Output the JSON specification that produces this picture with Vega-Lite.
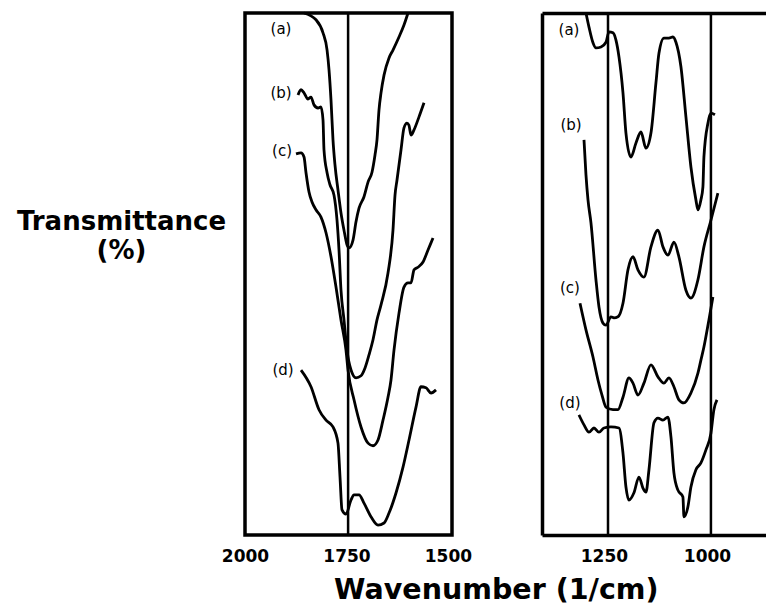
{
  "$schema": "https://vega.github.io/schema/vega-lite/v6.json",
  "padding": {"left": 14, "top": 5, "right": 0, "bottom": 0},
  "background": "white",
  "config": {
    "font": "DejaVu Sans",
    "axis": {"grid": false, "ticks": false, "domainColor": "black", "labelColor": "black", "titleColor": "black"},
    "concat": {"spacing": 68}
  },
  "title": {
    "text": "Wavenumber (1/cm)",
    "orient": "bottom",
    "anchor": "middle",
    "font": "DejaVu Sans",
    "fontSize": 28.5,
    "fontWeight": "bold",
    "color": "black",
    "offset": 10,
    "dx": 106
  },
  "datasets": {
    "left": [
      {"curve": "a", "wavenumber": 1854.6, "transmittance": 100},
      {"curve": "a", "wavenumber": 1825.1, "transmittance": 98.7},
      {"curve": "a", "wavenumber": 1807.8, "transmittance": 96.2},
      {"curve": "a", "wavenumber": 1797.8, "transmittance": 92.9},
      {"curve": "a", "wavenumber": 1793.0, "transmittance": 89.1},
      {"curve": "a", "wavenumber": 1788.1, "transmittance": 83.3},
      {"curve": "a", "wavenumber": 1783.2, "transmittance": 75.7},
      {"curve": "a", "wavenumber": 1778.3, "transmittance": 70.9},
      {"curve": "a", "wavenumber": 1770.9, "transmittance": 66.1},
      {"curve": "a", "wavenumber": 1763.5, "transmittance": 61.7},
      {"curve": "a", "wavenumber": 1756.1, "transmittance": 58.4},
      {"curve": "a", "wavenumber": 1748.7, "transmittance": 55.6},
      {"curve": "a", "wavenumber": 1743.6, "transmittance": 55.0},
      {"curve": "a", "wavenumber": 1733.9, "transmittance": 56.5},
      {"curve": "a", "wavenumber": 1726.5, "transmittance": 60.0},
      {"curve": "a", "wavenumber": 1719.1, "transmittance": 62.6},
      {"curve": "a", "wavenumber": 1706.8, "transmittance": 64.8},
      {"curve": "a", "wavenumber": 1696.9, "transmittance": 67.6},
      {"curve": "a", "wavenumber": 1687.1, "transmittance": 69.5},
      {"curve": "a", "wavenumber": 1679.7, "transmittance": 72.8},
      {"curve": "a", "wavenumber": 1674.8, "transmittance": 75.7},
      {"curve": "a", "wavenumber": 1669.9, "transmittance": 81.4},
      {"curve": "a", "wavenumber": 1664.9, "transmittance": 84.7},
      {"curve": "a", "wavenumber": 1657.5, "transmittance": 88.1},
      {"curve": "a", "wavenumber": 1645.2, "transmittance": 91.4},
      {"curve": "a", "wavenumber": 1635.4, "transmittance": 92.9},
      {"curve": "a", "wavenumber": 1620.6, "transmittance": 95.4},
      {"curve": "a", "wavenumber": 1608.3, "transmittance": 97.7},
      {"curve": "a", "wavenumber": 1598.4, "transmittance": 100},
      {"curve": "b", "wavenumber": 1869.4, "transmittance": 84.3},
      {"curve": "b", "wavenumber": 1862.0, "transmittance": 85.3},
      {"curve": "b", "wavenumber": 1854.6, "transmittance": 84.7},
      {"curve": "b", "wavenumber": 1844.8, "transmittance": 83.5},
      {"curve": "b", "wavenumber": 1837.4, "transmittance": 83.9},
      {"curve": "b", "wavenumber": 1830.0, "transmittance": 82.4},
      {"curve": "b", "wavenumber": 1820.1, "transmittance": 81.8},
      {"curve": "b", "wavenumber": 1812.8, "transmittance": 82.0},
      {"curve": "b", "wavenumber": 1807.8, "transmittance": 79.5},
      {"curve": "b", "wavenumber": 1805.4, "transmittance": 73.8},
      {"curve": "b", "wavenumber": 1797.8, "transmittance": 69.4},
      {"curve": "b", "wavenumber": 1790.6, "transmittance": 67.1},
      {"curve": "b", "wavenumber": 1780.7, "transmittance": 65.1},
      {"curve": "b", "wavenumber": 1773.3, "transmittance": 60.3},
      {"curve": "b", "wavenumber": 1768.4, "transmittance": 54.6},
      {"curve": "b", "wavenumber": 1763.5, "transmittance": 46.9},
      {"curve": "b", "wavenumber": 1756.1, "transmittance": 41.2},
      {"curve": "b", "wavenumber": 1748.7, "transmittance": 35.4},
      {"curve": "b", "wavenumber": 1738.8, "transmittance": 31.6},
      {"curve": "b", "wavenumber": 1726.5, "transmittance": 30.1},
      {"curve": "b", "wavenumber": 1714.2, "transmittance": 30.5},
      {"curve": "b", "wavenumber": 1704.3, "transmittance": 32.0},
      {"curve": "b", "wavenumber": 1694.5, "transmittance": 34.5},
      {"curve": "b", "wavenumber": 1684.6, "transmittance": 37.4},
      {"curve": "b", "wavenumber": 1674.8, "transmittance": 41.2},
      {"curve": "b", "wavenumber": 1664.9, "transmittance": 44.1},
      {"curve": "b", "wavenumber": 1647.7, "transmittance": 50.2},
      {"curve": "b", "wavenumber": 1635.4, "transmittance": 58.4},
      {"curve": "b", "wavenumber": 1630.4, "transmittance": 65.1},
      {"curve": "b", "wavenumber": 1625.5, "transmittance": 68.0},
      {"curve": "b", "wavenumber": 1615.6, "transmittance": 73.8},
      {"curve": "b", "wavenumber": 1608.3, "transmittance": 78.0},
      {"curve": "b", "wavenumber": 1600.9, "transmittance": 78.9},
      {"curve": "b", "wavenumber": 1596.1, "transmittance": 78.5},
      {"curve": "b", "wavenumber": 1591.0, "transmittance": 76.6},
      {"curve": "b", "wavenumber": 1583.6, "transmittance": 77.6},
      {"curve": "b", "wavenumber": 1571.3, "transmittance": 80.1},
      {"curve": "b", "wavenumber": 1559.0, "transmittance": 82.8},
      {"curve": "c", "wavenumber": 1874.3, "transmittance": 73.0},
      {"curve": "c", "wavenumber": 1862.0, "transmittance": 73.2},
      {"curve": "c", "wavenumber": 1854.6, "transmittance": 72.4},
      {"curve": "c", "wavenumber": 1849.7, "transmittance": 69.4},
      {"curve": "c", "wavenumber": 1842.3, "transmittance": 65.7},
      {"curve": "c", "wavenumber": 1834.9, "transmittance": 63.8},
      {"curve": "c", "wavenumber": 1825.1, "transmittance": 62.3},
      {"curve": "c", "wavenumber": 1812.8, "transmittance": 60.9},
      {"curve": "c", "wavenumber": 1800.4, "transmittance": 57.9},
      {"curve": "c", "wavenumber": 1788.1, "transmittance": 53.3},
      {"curve": "c", "wavenumber": 1775.8, "transmittance": 47.5},
      {"curve": "c", "wavenumber": 1763.5, "transmittance": 41.2},
      {"curve": "c", "wavenumber": 1751.2, "transmittance": 35.4},
      {"curve": "c", "wavenumber": 1746.2, "transmittance": 31.6},
      {"curve": "c", "wavenumber": 1731.4, "transmittance": 25.9},
      {"curve": "c", "wavenumber": 1714.2, "transmittance": 20.7},
      {"curve": "c", "wavenumber": 1696.9, "transmittance": 17.6},
      {"curve": "c", "wavenumber": 1684.6, "transmittance": 17.1},
      {"curve": "c", "wavenumber": 1672.3, "transmittance": 18.2},
      {"curve": "c", "wavenumber": 1660.0, "transmittance": 22.0},
      {"curve": "c", "wavenumber": 1647.7, "transmittance": 26.4},
      {"curve": "c", "wavenumber": 1640.3, "transmittance": 29.7},
      {"curve": "c", "wavenumber": 1632.9, "transmittance": 35.4},
      {"curve": "c", "wavenumber": 1620.6, "transmittance": 42.5},
      {"curve": "c", "wavenumber": 1608.3, "transmittance": 47.5},
      {"curve": "c", "wavenumber": 1598.4, "transmittance": 48.3},
      {"curve": "c", "wavenumber": 1591.0, "transmittance": 48.3},
      {"curve": "c", "wavenumber": 1583.6, "transmittance": 50.8},
      {"curve": "c", "wavenumber": 1573.8, "transmittance": 51.3},
      {"curve": "c", "wavenumber": 1561.4, "transmittance": 52.3},
      {"curve": "c", "wavenumber": 1549.1, "transmittance": 54.6},
      {"curve": "c", "wavenumber": 1536.8, "transmittance": 56.9},
      {"curve": "d", "wavenumber": 1862.0, "transmittance": 31.6},
      {"curve": "d", "wavenumber": 1837.4, "transmittance": 28.4},
      {"curve": "d", "wavenumber": 1817.7, "transmittance": 24.0},
      {"curve": "d", "wavenumber": 1800.4, "transmittance": 22.0},
      {"curve": "d", "wavenumber": 1783.2, "transmittance": 20.7},
      {"curve": "d", "wavenumber": 1770.9, "transmittance": 17.6},
      {"curve": "d", "wavenumber": 1765.9, "transmittance": 11.1},
      {"curve": "d", "wavenumber": 1761.0, "transmittance": 4.8},
      {"curve": "d", "wavenumber": 1751.2, "transmittance": 4.0},
      {"curve": "d", "wavenumber": 1738.8, "transmittance": 6.7},
      {"curve": "d", "wavenumber": 1731.4, "transmittance": 7.7},
      {"curve": "d", "wavenumber": 1719.1, "transmittance": 7.7},
      {"curve": "d", "wavenumber": 1706.8, "transmittance": 6.1},
      {"curve": "d", "wavenumber": 1689.6, "transmittance": 3.5},
      {"curve": "d", "wavenumber": 1672.3, "transmittance": 1.9},
      {"curve": "d", "wavenumber": 1657.5, "transmittance": 2.3},
      {"curve": "d", "wavenumber": 1645.2, "transmittance": 4.2},
      {"curve": "d", "wavenumber": 1627.8, "transmittance": 8.1},
      {"curve": "d", "wavenumber": 1610.7, "transmittance": 13.0},
      {"curve": "d", "wavenumber": 1595.9, "transmittance": 18.2},
      {"curve": "d", "wavenumber": 1578.7, "transmittance": 24.5},
      {"curve": "d", "wavenumber": 1566.4, "transmittance": 28.4},
      {"curve": "d", "wavenumber": 1554.1, "transmittance": 28.2},
      {"curve": "d", "wavenumber": 1541.7, "transmittance": 27.2},
      {"curve": "d", "wavenumber": 1529.4, "transmittance": 27.8}
    ],
    "right": [
      {"curve": "a", "wavenumber": 1293.4, "transmittance": 100},
      {"curve": "a", "wavenumber": 1286.1, "transmittance": 97.3},
      {"curve": "a", "wavenumber": 1276.4, "transmittance": 94.3},
      {"curve": "a", "wavenumber": 1269.2, "transmittance": 93.3},
      {"curve": "a", "wavenumber": 1257.0, "transmittance": 93.5},
      {"curve": "a", "wavenumber": 1244.9, "transmittance": 94.4},
      {"curve": "a", "wavenumber": 1237.7, "transmittance": 96.4},
      {"curve": "a", "wavenumber": 1228.0, "transmittance": 96.2},
      {"curve": "a", "wavenumber": 1220.7, "transmittance": 94.8},
      {"curve": "a", "wavenumber": 1213.4, "transmittance": 91.6},
      {"curve": "a", "wavenumber": 1203.7, "transmittance": 84.7},
      {"curve": "a", "wavenumber": 1196.5, "transmittance": 77.0},
      {"curve": "a", "wavenumber": 1184.4, "transmittance": 72.4},
      {"curve": "a", "wavenumber": 1172.2, "transmittance": 75.1},
      {"curve": "a", "wavenumber": 1160.1, "transmittance": 77.2},
      {"curve": "a", "wavenumber": 1148.0, "transmittance": 74.1},
      {"curve": "a", "wavenumber": 1135.9, "transmittance": 77.0},
      {"curve": "a", "wavenumber": 1123.8, "transmittance": 86.6},
      {"curve": "a", "wavenumber": 1116.5, "transmittance": 92.3},
      {"curve": "a", "wavenumber": 1104.4, "transmittance": 95.2},
      {"curve": "a", "wavenumber": 1092.3, "transmittance": 95.2},
      {"curve": "a", "wavenumber": 1082.6, "transmittance": 95.4},
      {"curve": "a", "wavenumber": 1075.3, "transmittance": 94.4},
      {"curve": "a", "wavenumber": 1063.2, "transmittance": 89.7},
      {"curve": "a", "wavenumber": 1051.1, "transmittance": 80.1},
      {"curve": "a", "wavenumber": 1039.0, "transmittance": 70.5},
      {"curve": "a", "wavenumber": 1026.9, "transmittance": 64.2},
      {"curve": "a", "wavenumber": 1022.0, "transmittance": 62.3},
      {"curve": "a", "wavenumber": 1014.8, "transmittance": 64.2},
      {"curve": "a", "wavenumber": 1009.9, "transmittance": 66.7},
      {"curve": "a", "wavenumber": 1007.5, "transmittance": 72.4},
      {"curve": "a", "wavenumber": 997.8, "transmittance": 78.9},
      {"curve": "a", "wavenumber": 990.5, "transmittance": 80.8},
      {"curve": "a", "wavenumber": 980.8, "transmittance": 80.5},
      {"curve": "b", "wavenumber": 1298.2, "transmittance": 75.7},
      {"curve": "b", "wavenumber": 1293.4, "transmittance": 69.0},
      {"curve": "b", "wavenumber": 1288.5, "transmittance": 64.2},
      {"curve": "b", "wavenumber": 1281.3, "transmittance": 59.8},
      {"curve": "b", "wavenumber": 1269.2, "transmittance": 48.9},
      {"curve": "b", "wavenumber": 1261.9, "transmittance": 43.7},
      {"curve": "b", "wavenumber": 1252.2, "transmittance": 40.6},
      {"curve": "b", "wavenumber": 1244.9, "transmittance": 40.2},
      {"curve": "b", "wavenumber": 1232.8, "transmittance": 41.8},
      {"curve": "b", "wavenumber": 1225.6, "transmittance": 41.6},
      {"curve": "b", "wavenumber": 1215.9, "transmittance": 41.8},
      {"curve": "b", "wavenumber": 1203.7, "transmittance": 44.4},
      {"curve": "b", "wavenumber": 1191.6, "transmittance": 50.8},
      {"curve": "b", "wavenumber": 1179.5, "transmittance": 53.3},
      {"curve": "b", "wavenumber": 1167.4, "transmittance": 50.8},
      {"curve": "b", "wavenumber": 1152.9, "transmittance": 49.4},
      {"curve": "b", "wavenumber": 1135.9, "transmittance": 55.2},
      {"curve": "b", "wavenumber": 1118.9, "transmittance": 58.4},
      {"curve": "b", "wavenumber": 1106.8, "transmittance": 55.2},
      {"curve": "b", "wavenumber": 1094.7, "transmittance": 53.6},
      {"curve": "b", "wavenumber": 1080.2, "transmittance": 56.1},
      {"curve": "b", "wavenumber": 1068.1, "transmittance": 53.3},
      {"curve": "b", "wavenumber": 1051.1, "transmittance": 46.9},
      {"curve": "b", "wavenumber": 1039.0, "transmittance": 45.4},
      {"curve": "b", "wavenumber": 1022.0, "transmittance": 48.9},
      {"curve": "b", "wavenumber": 1007.5, "transmittance": 55.2},
      {"curve": "b", "wavenumber": 990.5, "transmittance": 60.3},
      {"curve": "b", "wavenumber": 973.6, "transmittance": 65.5},
      {"curve": "c", "wavenumber": 1307.9, "transmittance": 44.4},
      {"curve": "c", "wavenumber": 1293.4, "transmittance": 39.3},
      {"curve": "c", "wavenumber": 1276.4, "transmittance": 34.1},
      {"curve": "c", "wavenumber": 1264.3, "transmittance": 29.7},
      {"curve": "c", "wavenumber": 1254.6, "transmittance": 26.8},
      {"curve": "c", "wavenumber": 1244.9, "transmittance": 24.5},
      {"curve": "c", "wavenumber": 1228.0, "transmittance": 24.0},
      {"curve": "c", "wavenumber": 1215.9, "transmittance": 24.0},
      {"curve": "c", "wavenumber": 1203.7, "transmittance": 26.4},
      {"curve": "c", "wavenumber": 1189.2, "transmittance": 30.1},
      {"curve": "c", "wavenumber": 1179.5, "transmittance": 29.1},
      {"curve": "c", "wavenumber": 1167.4, "transmittance": 26.8},
      {"curve": "c", "wavenumber": 1152.9, "transmittance": 29.1},
      {"curve": "c", "wavenumber": 1135.9, "transmittance": 32.6},
      {"curve": "c", "wavenumber": 1118.9, "transmittance": 30.3},
      {"curve": "c", "wavenumber": 1104.4, "transmittance": 29.1},
      {"curve": "c", "wavenumber": 1092.3, "transmittance": 30.1},
      {"curve": "c", "wavenumber": 1080.2, "transmittance": 28.4},
      {"curve": "c", "wavenumber": 1068.1, "transmittance": 25.9},
      {"curve": "c", "wavenumber": 1055.9, "transmittance": 25.3},
      {"curve": "c", "wavenumber": 1039.0, "transmittance": 27.2},
      {"curve": "c", "wavenumber": 1022.0, "transmittance": 31.0},
      {"curve": "c", "wavenumber": 1014.8, "transmittance": 33.5},
      {"curve": "c", "wavenumber": 1007.5, "transmittance": 36.0},
      {"curve": "c", "wavenumber": 995.4, "transmittance": 41.2},
      {"curve": "c", "wavenumber": 985.7, "transmittance": 45.6},
      {"curve": "d", "wavenumber": 1310.4, "transmittance": 23.0},
      {"curve": "d", "wavenumber": 1298.2, "transmittance": 21.1},
      {"curve": "d", "wavenumber": 1286.1, "transmittance": 19.7},
      {"curve": "d", "wavenumber": 1274.0, "transmittance": 20.5},
      {"curve": "d", "wavenumber": 1261.9, "transmittance": 19.7},
      {"curve": "d", "wavenumber": 1249.8, "transmittance": 20.5},
      {"curve": "d", "wavenumber": 1232.8, "transmittance": 20.7},
      {"curve": "d", "wavenumber": 1213.4, "transmittance": 20.5},
      {"curve": "d", "wavenumber": 1203.7, "transmittance": 15.7},
      {"curve": "d", "wavenumber": 1196.5, "transmittance": 9.2},
      {"curve": "d", "wavenumber": 1189.2, "transmittance": 6.7},
      {"curve": "d", "wavenumber": 1177.1, "transmittance": 8.1},
      {"curve": "d", "wavenumber": 1165.0, "transmittance": 11.1},
      {"curve": "d", "wavenumber": 1155.3, "transmittance": 9.0},
      {"curve": "d", "wavenumber": 1148.0, "transmittance": 8.2},
      {"curve": "d", "wavenumber": 1140.7, "transmittance": 12.5},
      {"curve": "d", "wavenumber": 1128.6, "transmittance": 21.5},
      {"curve": "d", "wavenumber": 1118.9, "transmittance": 22.4},
      {"curve": "d", "wavenumber": 1106.8, "transmittance": 22.0},
      {"curve": "d", "wavenumber": 1094.7, "transmittance": 22.6},
      {"curve": "d", "wavenumber": 1087.4, "transmittance": 18.8},
      {"curve": "d", "wavenumber": 1080.2, "transmittance": 11.9},
      {"curve": "d", "wavenumber": 1070.5, "transmittance": 8.6},
      {"curve": "d", "wavenumber": 1058.4, "transmittance": 7.3},
      {"curve": "d", "wavenumber": 1055.9, "transmittance": 3.5},
      {"curve": "d", "wavenumber": 1046.3, "transmittance": 5.4},
      {"curve": "d", "wavenumber": 1039.0, "transmittance": 9.2},
      {"curve": "d", "wavenumber": 1026.9, "transmittance": 12.5},
      {"curve": "d", "wavenumber": 1014.8, "transmittance": 13.8},
      {"curve": "d", "wavenumber": 1002.6, "transmittance": 16.3},
      {"curve": "d", "wavenumber": 990.5, "transmittance": 19.5},
      {"curve": "d", "wavenumber": 983.3, "transmittance": 24.0},
      {"curve": "d", "wavenumber": 975.9, "transmittance": 25.9}
    ],
    "leftLabels": [
      {"label": "(a)", "wavenumber": 1911.3, "transmittance": 96.9},
      {"label": "(b)", "wavenumber": 1911.3, "transmittance": 84.7},
      {"label": "(c)", "wavenumber": 1908.8, "transmittance": 73.6},
      {"label": "(d)", "wavenumber": 1906.4, "transmittance": 31.6}
    ],
    "rightLabels": [
      {"label": "(a)", "wavenumber": 1334.6, "transmittance": 96.7},
      {"label": "(b)", "wavenumber": 1329.7, "transmittance": 78.5},
      {"label": "(c)", "wavenumber": 1332.2, "transmittance": 47.3},
      {"label": "(d)", "wavenumber": 1332.2, "transmittance": 25.3}
    ],
    "leftRefs": [{"wavenumber": 1746}],
    "rightRefs": [{"wavenumber": 1240}, {"wavenumber": 990.5}]
  },
  "hconcat": [
    {
      "width": 207,
      "height": 522,
      "view": {"stroke": "black", "strokeWidth": 3.5},
      "layer": [
        {
          "data": {"name": "leftRefs"},
          "mark": {"type": "rule", "color": "black", "strokeWidth": 2.5},
          "encoding": {
            "x": {"field": "wavenumber", "type": "quantitative", "scale": {"domain": [1490, 2000], "reverse": true, "nice": false, "zero": false}}
          }
        },
        {
          "data": {"name": "left"},
          "mark": {"type": "line", "color": "black", "strokeWidth": 2.8, "interpolate": "monotone"},
          "encoding": {
            "x": {"field": "wavenumber", "type": "quantitative",
                  "axis": {"values": [2000, 1750, 1500], "format": "d", "domain": false, "ticks": false, "labelFlush": false, "labelBound": false, "labelFontSize": 17, "labelFontWeight": "bold", "labelPadding": 13, "title": null}},
            "y": {"field": "transmittance", "type": "quantitative", "scale": {"domain": [0, 100], "nice": false, "zero": false},
                  "axis": {"domain": false, "ticks": false, "labels": false, "title": ["Transmittance", "(%)"], "titleAngle": 0, "titleAlign": "center", "titleBaseline": "top", "titleX": -124, "titleY": 195, "titleFontSize": 26, "titleFontWeight": "bold", "titleLineHeight": 29}},
            "detail": {"field": "curve"}
          }
        },
        {
          "data": {"name": "leftLabels"},
          "mark": {"type": "text", "color": "black", "fontSize": 15, "align": "center", "baseline": "middle"},
          "encoding": {
            "x": {"field": "wavenumber", "type": "quantitative"},
            "y": {"field": "transmittance", "type": "quantitative"},
            "text": {"field": "label"}
          }
        }
      ]
    },
    {
      "width": 224,
      "height": 522,
      "view": {"stroke": null},
      "resolve": {"axis": {"x": "independent"}},
      "layer": [
        {
          "data": {"name": "rightRefs"},
          "mark": {"type": "rule", "color": "black", "strokeWidth": 2.5},
          "encoding": {
            "x": {"field": "wavenumber", "type": "quantitative", "scale": {"domain": [857, 1400], "reverse": true, "nice": false, "zero": false},
                  "axis": {"orient": "top", "labels": false, "ticks": false, "domain": true, "domainWidth": 3.5, "title": null}}
          }
        },
        {
          "data": {"name": "right"},
          "mark": {"type": "line", "color": "black", "strokeWidth": 2.8, "interpolate": "monotone"},
          "encoding": {
            "x": {"field": "wavenumber", "type": "quantitative",
                  "axis": {"orient": "bottom", "values": [1250, 1000], "format": "d", "domain": true, "domainWidth": 3.5, "ticks": false, "labelFlush": false, "labelBound": false, "labelFontSize": 17, "labelFontWeight": "bold", "labelPadding": 13, "title": null}},
            "y": {"field": "transmittance", "type": "quantitative", "scale": {"domain": [0, 100], "nice": false, "zero": false},
                  "axis": {"orient": "left", "domain": true, "domainWidth": 3.5, "ticks": false, "labels": false, "title": null}},
            "detail": {"field": "curve"}
          }
        },
        {
          "data": {"name": "rightLabels"},
          "mark": {"type": "text", "color": "black", "fontSize": 15, "align": "center", "baseline": "middle"},
          "encoding": {
            "x": {"field": "wavenumber", "type": "quantitative", "axis": null},
            "y": {"field": "transmittance", "type": "quantitative"},
            "text": {"field": "label"}
          }
        }
      ]
    }
  ]
}
